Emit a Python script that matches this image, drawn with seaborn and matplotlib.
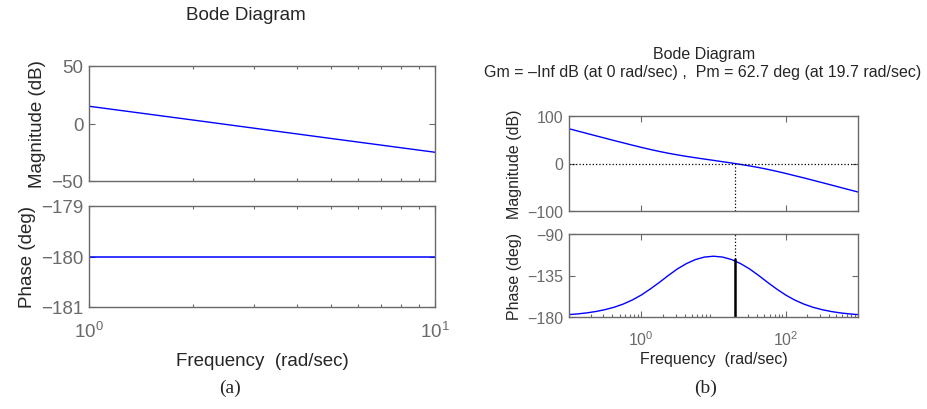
import numpy as np
import pandas as pd
import seaborn as sns
import matplotlib.pyplot as plt
from matplotlib.ticker import LogLocator, NullFormatter, NullLocator

# (a) double integrator
freq_a = [1, 2, 5, 10]
mag_a = [15, 3, -13, -25]
phase_a = [-180, -180, -180, -180]

# (b) with lead compensator
freq_b = [0.1, 0.133, 0.178, 0.237, 0.316, 0.422, 0.562, 0.75,
          1, 1.33, 1.78, 2.37, 3.16, 4.22, 5.62, 7.5,
          10, 13.3, 17.8, 23.7, 31.6, 42.2, 56.2, 75,
          100, 133, 178, 237, 316, 422, 562, 750, 1000]
mag_b = [73.2, 68.2, 63.2, 58.2, 53.3, 48.3, 43.5, 38.7,
         34.0, 29.6, 25.4, 21.6, 18.2, 15.0, 12.1, 9.3,
         6.6, 3.8, 1.0, -1.9, -5.1, -8.5, -12.3, -16.5,
         -20.9, -25.6, -30.3, -35.2, -40.1, -45.1, -50.1, -55.1, -60.0]
phase_b = [-177.4, -176.6, -175.5, -174.0, -172.0, -169.4, -166.0, -161.6,
           -156.2, -149.7, -142.5, -135.0, -127.9, -122.1, -117.7, -115.0,
           -114.1, -115.0, -117.7, -122.1, -127.9, -135.0, -142.5, -149.7,
           -156.2, -161.6, -166.0, -169.4, -172.0, -174.0, -175.5, -176.6, -177.4]
wc = 19.7   # gain crossover (rad/sec)
pm = 62.7   # phase margin (deg)

df_a = pd.DataFrame({"w": freq_a, "mag": mag_a, "phase": phase_a})
df_b = pd.DataFrame({"w": freq_b, "mag": mag_b, "phase": phase_b})

sns.set_style("ticks")
plt.rcParams["font.family"] = ["Liberation Sans", "DejaVu Sans"]
plt.rcParams["axes.edgecolor"] = "#6a6a6a"
plt.rcParams["xtick.color"] = "#6a6a6a"
plt.rcParams["ytick.color"] = "#6a6a6a"

fig = plt.figure(figsize=(9.27, 4.10), dpi=100)
W, H = 927, 410


def box(x0, y0, x1, y1):
    return [x0 / W, 1 - y1 / H, (x1 - x0) / W, (y1 - y0) / H]


def style(ax, fs, minor_top=True, xpad=6):
    ax.set_xscale("log")
    ax.tick_params(which="both", direction="in", top=True, right=True,
                   labelsize=fs, width=0.8, pad=4)
    ax.tick_params(which="major", length=4)
    ax.tick_params(which="minor", length=2.5)
    ax.tick_params(axis="x", pad=xpad)
    if not minor_top:
        ax.tick_params(axis="x", which="minor", top=False)
    for s in ax.spines.values():
        s.set_linewidth(1.0)
    ax.set_xlabel("")
    ax.set_ylabel("")


blue = "#0000ff"

# ---- left panel
ax1 = fig.add_axes(box(89, 67, 435, 182))
sns.lineplot(data=df_a, x="w", y="mag", color=blue, lw=1.0, ax=ax1)
style(ax1, 13.5)
ax1.set_xlim(1, 10)
ax1.set_ylim(-50, 50)
ax1.set_yticks([-50, 0, 50])
ax1.xaxis.set_minor_locator(LogLocator(base=10, subs=np.arange(2, 10)))
ax1.xaxis.set_minor_formatter(NullFormatter())
ax1.tick_params(axis="x", which="both", labelbottom=False)
ax1.set_ylabel("Magnitude (dB)", fontsize=13.5)

ax2 = fig.add_axes(box(89, 207, 435, 308))
sns.lineplot(data=df_a, x="w", y="phase", color=blue, lw=1.1, ax=ax2)
style(ax2, 13.5, xpad=10)
ax2.set_xlim(1, 10)
ax2.set_ylim(-181, -179)
ax2.set_yticks([-181, -180, -179])
ax2.set_xticks([1, 10])
ax2.xaxis.set_minor_locator(LogLocator(base=10, subs=np.arange(2, 10)))
ax2.xaxis.set_minor_formatter(NullFormatter())
ax2.set_ylabel("Phase (deg)", fontsize=13.5)
ax2.set_xlabel("Frequency  (rad/sec)", fontsize=13.5, labelpad=8)

# ---- right panel
ax3 = fig.add_axes(box(569, 117, 858, 212))
sns.lineplot(data=df_b, x="w", y="mag", color=blue, lw=1.0, ax=ax3)
style(ax3, 11.5)
ax3.set_xlim(0.1, 1000)
ax3.set_ylim(-100, 100)
ax3.set_yticks([-100, 0, 100])
ax3.set_xticks([1, 100])
ax3.xaxis.set_minor_locator(NullLocator())
ax3.tick_params(axis="x", which="both", labelbottom=False)
ax3.axhline(0, color="black", ls=":", lw=0.9)
ax3.plot([wc, wc], [-100, 0], color="black", ls=":", lw=0.9)
ax3.set_ylabel("Magnitude (dB)", fontsize=11.5)

ax4 = fig.add_axes(box(569, 235, 858, 318))
sns.lineplot(data=df_b, x="w", y="phase", color=blue, lw=1.0, ax=ax4)
style(ax4, 11.5, minor_top=False, xpad=9)
ax4.set_xlim(0.1, 1000)
ax4.set_ylim(-180, -90)
ax4.set_yticks([-180, -135, -90])
ax4.set_xticks([1, 100])
ax4.xaxis.set_minor_locator(LogLocator(base=10, subs=np.arange(2, 10), numticks=20))
ax4.xaxis.set_minor_formatter(NullFormatter())
ax4.plot([wc, wc], [-180 + pm, -90], color="black", ls=":", lw=0.9)
ax4.plot([wc, wc], [-180, -180 + pm], color="black", lw=1.8)
ax4.set_ylabel("Phase (deg)", fontsize=11.5)
ax4.set_xlabel("Frequency  (rad/sec)", fontsize=11.5, labelpad=2)
fig.align_ylabels([ax3, ax4])

# titles
fig.text(246 / W, 1 - 15 / H, "Bode Diagram", ha="center", va="center", fontsize=13.5)
fig.text(704 / W, 1 - 55 / H, "Bode Diagram", ha="center", va="center", fontsize=11.5)
fig.text(703 / W, 1 - 73 / H,
         "Gm = \u2013Inf dB (at 0 rad/sec) ,  Pm = 62.7 deg (at 19.7 rad/sec)",
         ha="center", va="center", fontsize=11.5)

# captions
fig.text(230 / W, 1 - 388 / H, "(a)", ha="center", va="center", fontsize=14,
         family="Liberation Serif")
fig.text(706 / W, 1 - 388 / H, "(b)", ha="center", va="center", fontsize=14,
         family="Liberation Serif")

fig.savefig("out.png", dpi=100)
